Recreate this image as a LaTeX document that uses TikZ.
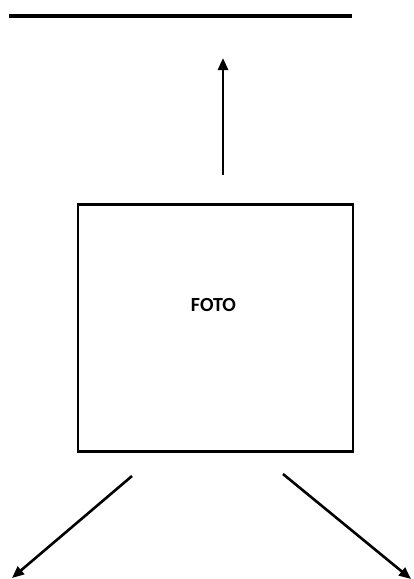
\documentclass[tikz,border=0pt]{standalone}
\usepackage{fontspec}
\setmainfont{Carlito}
\usetikzlibrary{arrows.meta}
\begin{document}
\begin{tikzpicture}[x=1pt,y=-1pt,
  stroke/.style={line width=2.6pt,line cap=butt},
  arrowline/.style={stroke,-{Triangle[length=12pt,width=10pt]}},
  frame/.style={draw,line width=2.4pt,minimum width=275pt,minimum height=247pt,inner sep=0pt}]
  \useasboundingbox (0,0) rectangle (414,579);
  % top bar
  \coordinate (barL) at (9,16);
  \coordinate (barR) at (352,16);
  \draw[line width=3.2pt] (barL) -- (barR);
  % picture frame
  \node[frame] (foto) at (215.5,328) {};
  \node[font=\bfseries\fontsize{20}{20}\selectfont] (label) at (213.5,305) {FOTO};
  % arrows
  \coordinate (upS) at (223,175);
  \coordinate (upE) at (223,58);
  \draw[arrowline] (upS) -- (upE);
  \coordinate (lS) at (132,476);
  \coordinate (lE) at (12,578);
  \draw[arrowline] (lS) -- (lE);
  \coordinate (rS) at (283,474);
  \coordinate (rE) at (411,579);
  \draw[arrowline] (rS) -- (rE);
\end{tikzpicture}
\end{document}
